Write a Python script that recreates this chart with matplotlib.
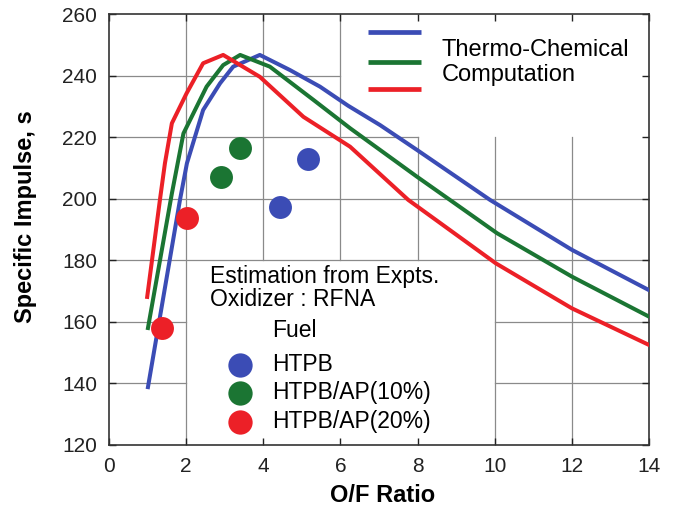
import matplotlib
matplotlib.use("Agg")
import matplotlib.pyplot as plt

plt.rcParams['font.family'] = ['Liberation Sans', 'DejaVu Sans']

# ---- data ----
htpb_x = [1.01, 1.84, 2.02, 2.44, 2.88, 3.22, 3.91, 4.69, 5.47, 6.2, 7.03, 7.99, 9.88, 12.0, 14.0]
htpb_y = [138.8, 199.6, 211.5, 228.8, 237.5, 242.9, 246.7, 241.8, 236.4, 230.2, 223.9, 215.8, 199.6, 183.4, 170.3]

ap10_x = [1.01, 1.63, 1.93, 2.53, 2.96, 3.40, 4.17, 5.30, 6.25, 7.99, 8.84, 10.06, 12.0, 14.0]
ap10_y = [158.0, 201.7, 221.2, 236.4, 243.4, 246.7, 242.9, 232.1, 222.9, 207.1, 199.6, 188.8, 174.7, 161.7]

ap20_x = [0.99, 1.32, 1.45, 1.63, 2.01, 2.44, 2.96, 3.91, 5.04, 6.25, 7.76, 10.03, 12.0, 14.0]
ap20_y = [168.1, 199.6, 211.5, 224.5, 234.2, 244.0, 246.7, 239.6, 226.6, 216.9, 199.6, 179.0, 164.4, 152.5]

exp_htpb_x = [4.43, 5.17]
exp_htpb_y = [197.4, 212.8]
exp_ap10_x = [2.90, 3.40]
exp_ap10_y = [207.1, 216.4]
exp_ap20_x = [1.38, 2.03]
exp_ap20_y = [157.9, 193.6]

fuel_labels = ['HTPB', 'HTPB/AP(10%)', 'HTPB/AP(20%)']
x_ticks = [0, 2, 4, 6, 8, 10, 12, 14]
y_ticks = [120, 140, 160, 180, 200, 220, 240, 260]

BLUE = '#3b4cb5'
GREEN = '#1b7533'
RED = '#ec2027'
colors = [BLUE, GREEN, RED]

fig = plt.figure(figsize=(6.84, 5.08), dpi=100)
ax = fig.add_axes([109/684, 63/508, 540/684, 431/508])
ax.set_xlim(0, 14)
ax.set_ylim(120, 260)

# partial grid (hidden behind the annotation boxes in the reference)
gcol = '#8a8a8a'
glw = 0.9
h_segments = [(140, 0, 2), (140, 10, 14), (160, 0, 2), (160, 10, 14),
              (180, 0, 14), (200, 0, 14), (220, 0, 8), (240, 0, 6)]
v_segments = [(2, 120, 260), (4, 180, 260), (6, 180, 260), (8, 180, 220),
              (10, 120, 220), (12, 120, 220)]
for y, x0, x1 in h_segments:
    ax.plot([x0, x1], [y, y], color=gcol, lw=glw, zorder=1)
for x, y0, y1 in v_segments:
    ax.plot([x, x], [y0, y1], color=gcol, lw=glw, zorder=1)

# computed curves
lw = 2.9
ax.plot(htpb_x, htpb_y, color=BLUE, lw=lw, zorder=3)
ax.plot(ap10_x, ap10_y, color=GREEN, lw=lw, zorder=3)
ax.plot(ap20_x, ap20_y, color=RED, lw=lw, zorder=3)

# experimental points
ms = 16.5
ax.plot(exp_htpb_x, exp_htpb_y, 'o', color=BLUE, ms=ms, mec='none', zorder=4)
ax.plot(exp_ap10_x, exp_ap10_y, 'o', color=GREEN, ms=ms, mec='none', zorder=4)
ax.plot(exp_ap20_x, exp_ap20_y, 'o', color=RED, ms=ms, mec='none', zorder=4)

# top legend (computed)
for c, yy in zip(colors, [254.1, 244.4, 235.6]):
    ax.plot([6.72, 8.09], [yy, yy], color=c, lw=3.4, solid_capstyle='butt', zorder=5)
ax.text(8.63, 248.3, 'Thermo-Chemical', fontsize=17, va='center', ha='left', zorder=6)
ax.text(8.63, 240.2, 'Computation', fontsize=17, va='center', ha='left', zorder=6)

# bottom legend (experiments)
ax.text(2.62, 174.6, 'Estimation from Expts.', fontsize=16.5, va='center', ha='left', zorder=6)
ax.text(2.62, 167.1, 'Oxidizer : RFNA', fontsize=16.5, va='center', ha='left', zorder=6)
ax.text(4.23, 157.3, 'Fuel', fontsize=16.5, va='center', ha='left', zorder=6)
for c, lab, yy in zip(colors, fuel_labels, [146.0, 136.9, 127.5]):
    ax.plot([3.40], [yy], 'o', color=c, ms=17.5, mec='none', zorder=6)
    ax.text(4.23, yy, lab, fontsize=16.5, va='center', ha='left', zorder=6)

ax.set_xticks(x_ticks)
ax.set_yticks(y_ticks)
ax.tick_params(direction='in', length=5, width=1, top=True, right=True,
               labelsize=15, pad=8.5, colors='#222222')
for s in ax.spines.values():
    s.set_linewidth(1.2)
    s.set_color('#333333')

ax.set_xlabel('O/F Ratio', fontsize=17, fontweight='bold', va='center')
ax.xaxis.set_label_coords(0.506, -0.118)
ax.set_ylabel('Specific Impulse, s', fontsize=17, fontweight='bold', va='center')
ax.yaxis.set_label_coords(-0.155, 0.529)

fig.savefig('out.png', dpi=100)
